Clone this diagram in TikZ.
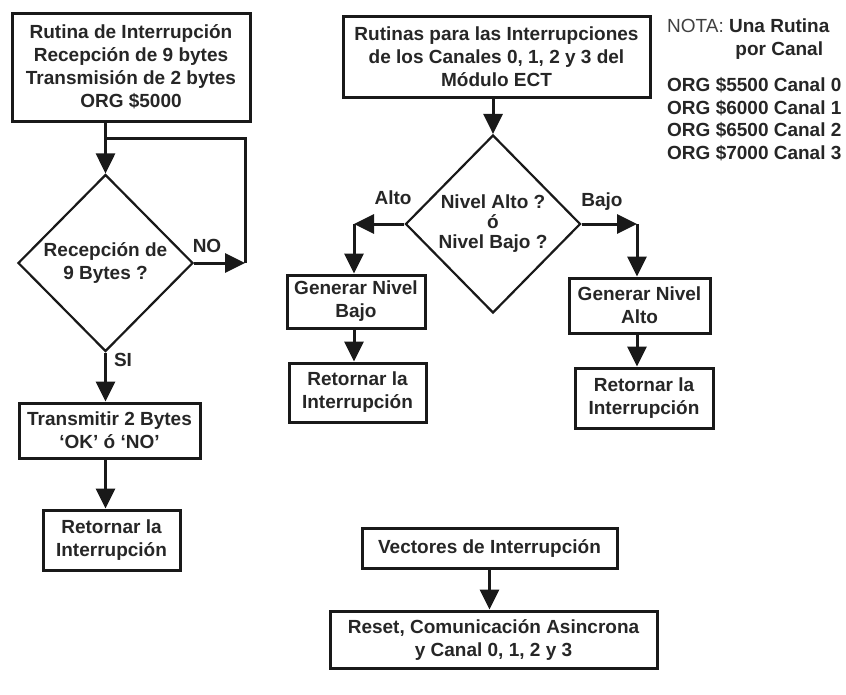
\documentclass[tikz,border=0pt]{standalone}
\usepackage{fontspec}
\setmainfont{Liberation Sans}
\usetikzlibrary{arrows.meta,shapes.geometric,positioning}

\newcommand{\letra}{\fontsize{19}{23}\selectfont\bfseries}

\tikzset{
  caja/.style={draw=black!90, line width=3pt, align=center, inner sep=0pt, font=\letra, text=black!85},
  decision/.style={diamond, draw=black!90, line width=2.2pt, align=center, inner sep=0pt, font=\letra, text=black!85},
  flecha/.style={draw=black!90, line width=3pt, -{Triangle[length=20pt,width=19pt]}},
  linea/.style={draw=black!90, line width=3pt},
  etiqueta/.style={font=\letra, text=black!85, inner sep=0pt}
}

\begin{document}
\begin{tikzpicture}[x=1pt, y=1pt]
    \fill[white] (0,0) rectangle (846,-694);
    \useasboundingbox (0,0) rectangle (846,-694);

    % Rutina de recepcion (izquierda)
    \node[caja, minimum width=238, minimum height=108] (rx) at (131,-67)
        {Rutina de Interrupción\\Recepción de 9 bytes\\Transmisión de 2 bytes\\ORG \$5000};
    \node[decision, minimum width=175, minimum height=177] (rx9) at (105.5,-263)
        {Recepción de\\9 Bytes ?};
    \node[caja, minimum width=181, minimum height=55] (tx) at (109.5,-430.5)
        {Transmitir 2 Bytes\\`OK' ó `NO'};
    \node[caja, minimum width=137, minimum height=60] (retA) at (111.5,-540)
        {Retornar la\\Interrupción};
    \node[etiqueta] (no) at (207,-246) {NO};
    \node[etiqueta] (si) at (123,-360) {SI};

    \coordinate (uneL) at (105.5,-138);
    \coordinate (vueltaA) at (245,-138);
    \coordinate (vueltaB) at (245,-263);
    \draw[flecha] (rx.south -| rx9.north) -- (rx9.north);
    \draw[flecha] (rx9.east) -- (vueltaB);
    \draw[linea] (vueltaB) -- (vueltaA) -- (uneL);
    \draw[flecha] (rx9.south) -- (rx9.south |- tx.north);
    \draw[flecha] (tx.south -| rx9.south) -- (rx9.south |- retA.north);

    % Rutinas de los canales (derecha)
    \node[caja, minimum width=307, minimum height=81] (canales) at (496.5,-56.5)
        {Rutinas para las Interrupciones\\de los Canales 0, 1, 2 y 3 del\\Módulo ECT};
    \node[decision, minimum width=175, minimum height=178] (nivel) at (493,-224)
        {Nivel Alto ?\\[-3pt]ó\\[-3pt]Nivel Bajo ?};
    \node[caja, minimum width=138, minimum height=53] (genB) at (356,-301.5)
        {Generar Nivel\\Bajo};
    \node[caja, minimum width=137, minimum height=59] (retB) at (357.5,-392.5)
        {Retornar la\\Interrupción};
    \node[caja, minimum width=141, minimum height=55] (genA) at (639.5,-305.5)
        {Generar Nivel\\Alto};
    \node[caja, minimum width=138, minimum height=60] (retC) at (644,-398)
        {Retornar la\\Interrupción};
    \node[etiqueta] (alto) at (393,-198) {Alto};
    \node[etiqueta] (bajo) at (602,-202) {Bajo};

    \coordinate (esqA) at (354,-224);
    \coordinate (esqB) at (637,-224);
    \draw[flecha] (canales.south -| nivel.north) -- (nivel.north);
    \draw[flecha] (nivel.west) -- (esqA);
    \draw[flecha] (esqA) -- (esqA |- genB.north);
    \draw[flecha] (nivel.east) -- (esqB);
    \draw[flecha] (esqB) -- (esqB |- genA.north);
    \draw[flecha] (genB.south -| esqA) -- (esqA |- retB.north);
    \draw[flecha] (genA.south -| esqB) -- (esqB |- retC.north);

    % Nota
    \node[etiqueta, anchor=north west] (nota) at (667,-16)
        {{\mdseries\color{black!75}NOTA:} \begin{tabular}[t]{@{}c@{}}Una Rutina\\por Canal\end{tabular}};
    \node[etiqueta, anchor=north west, align=left, font=\fontsize{19}{22.7}\selectfont\bfseries] (orgs) at (667,-77)
        {ORG \$5500 Canal 0\\ORG \$6000 Canal 1\\ORG \$6500 Canal 2\\ORG \$7000 Canal 3};

    % Vectores
    \node[caja, minimum width=255, minimum height=40] (vect) at (489.5,-548)
        {Vectores de Interrupción};
    \node[caja, minimum width=327, minimum height=57] (reset) at (493.5,-639.5)
        {Reset, Comunicación Asincrona\\y Canal 0, 1, 2 y 3};
    \draw[flecha] (vect.south) -- (vect.south |- reset.north);
\end{tikzpicture}
\end{document}
